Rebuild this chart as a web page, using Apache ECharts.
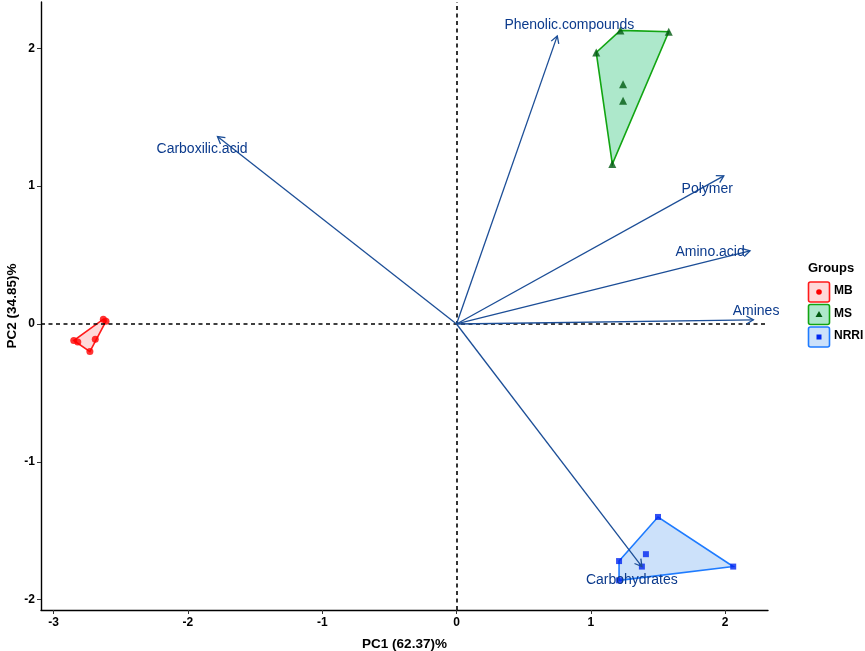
<!DOCTYPE html>
<html>
<head>
<meta charset="utf-8">
<script src="https://cdn.jsdelivr.net/npm/echarts@6/dist/echarts.min.js"></script>
<style>html,body{margin:0;padding:0;background:#fff}#c{width:865px;height:651px}</style>
</head>
<body>
<div id="c"></div>
<script>
// ---- data ----
const groupNames = ['MB', 'MS', 'NRRI'];
const mbX = [-2.85, -2.82, -2.73, -2.69, -2.63, -2.61];
const mbY = [-0.12, -0.13, -0.20, -0.11, 0.035, 0.02];
const msX = [1.04, 1.22, 1.58, 1.16, 1.24, 1.24];
const msY = [1.97, 2.13, 2.12, 1.16, 1.74, 1.62];
const nrriX = [1.21, 1.21, 1.50, 2.06, 1.41, 1.38];
const nrriY = [-1.72, -1.86, -1.40, -1.76, -1.67, -1.76];

const varNames = ['Phenolic.compounds', 'Carboxilic.acid', 'Polymer', 'Amino.acid', 'Amines', 'Carbohydrates'];
const varX = [0.75, -1.78, 1.99, 2.185, 2.21, 1.38];
const varY = [2.09, 1.36, 1.075, 0.53, 0.03, -1.76];
const varLabelX = [0.84, -1.895, 1.867, 1.888, 2.23, 1.305];
const varLabelY = [2.17, 1.27, 0.976, 0.524, 0.094, -1.855];

const xTicks = [-3, -2, -1, 0, 1, 2];
const yTicks = [-2, -1, 0, 1, 2];
const xTitle = 'PC1 (62.37)%';
const yTitle = 'PC2 (34.85)%';
const legendTitle = 'Groups';

// ---- styles ----
const FONT = '"Liberation Sans", Arial, sans-serif';
const groupStyle = {
  MB:   { stroke: '#FF1A1A', fill: 'rgba(255,120,120,0.28)', point: '#FF0000', symbol: 'circle', size: 7 },
  MS:   { stroke: '#12A512', fill: 'rgba(60,200,130,0.42)', point: '#005A10', symbol: 'triangle', size: 8 },
  NRRI: { stroke: '#1E7BFF', fill: 'rgba(110,170,240,0.35)', point: '#0026F0', symbol: 'rect', size: 6 }
};
const arrowColor = '#1C4E97';
const labelColor = '#0B3A8C';

function hull(xs, ys) {
  const pts = xs.map((x, i) => [x, ys[i]]).sort((a, b) => a[0] - b[0] || a[1] - b[1]);
  const cross = (o, a, b) => (a[0] - o[0]) * (b[1] - o[1]) - (a[1] - o[1]) * (b[0] - o[0]);
  const lower = [], upper = [];
  for (const p of pts) { while (lower.length >= 2 && cross(lower[lower.length - 2], lower[lower.length - 1], p) <= 0) lower.pop(); lower.push(p); }
  for (let i = pts.length - 1; i >= 0; i--) { const p = pts[i]; while (upper.length >= 2 && cross(upper[upper.length - 2], upper[upper.length - 1], p) <= 0) upper.pop(); upper.push(p); }
  upper.pop(); lower.pop();
  return lower.concat(upper);
}

const groups = [
  { name: 'MB', xs: mbX, ys: mbY },
  { name: 'MS', xs: msX, ys: msY },
  { name: 'NRRI', xs: nrriX, ys: nrriY }
];

const series = [];
groups.forEach(g => {
  const st = groupStyle[g.name];
  const h = hull(g.xs, g.ys);
  series.push({
    type: 'custom', name: g.name + '_hull', silent: true, z: 2,
    data: [0],
    renderItem: function (params, api) {
      const pts = h.map(p => api.coord(p));
      return { type: 'polygon', shape: { points: pts }, style: { fill: st.fill, stroke: st.stroke, lineWidth: 1.6 } };
    }
  });
  series.push({
    type: 'scatter', name: g.name, z: 3, silent: true,
    symbol: st.symbol, symbolSize: st.size,
    itemStyle: { color: st.point },
    data: g.xs.map((x, i) => [x, g.ys[i]])
  });
});

// dashed reference lines
series.push({
  type: 'line', data: [], silent: true, z: 1,
  markLine: {
    silent: true, symbol: 'none', label: { show: false }, animation: false,
    lineStyle: { color: '#000', type: [4, 3.5], width: 1.6 },
    data: [{ xAxis: 0 }, { yAxis: 0 }]
  }
});

// loading arrows
series.push({
  type: 'custom', name: 'arrows', silent: true, z: 5,
  data: varNames.map((n, i) => [varX[i], varY[i], varLabelX[i], varLabelY[i], i]),
  encode: { x: 0, y: 1 },
  renderItem: function (params, api) {
    const o = api.coord([0, 0]);
    const t = api.coord([api.value(0), api.value(1)]);
    const l = api.coord([api.value(2), api.value(3)]);
    const ang = Math.atan2(t[1] - o[1], t[0] - o[0]);
    const L = 8, A = Math.PI / 6;
    const w1 = [t[0] - L * Math.cos(ang - A), t[1] - L * Math.sin(ang - A)];
    const w2 = [t[0] - L * Math.cos(ang + A), t[1] - L * Math.sin(ang + A)];
    return {
      type: 'group',
      children: [
        { type: 'line', shape: { x1: o[0], y1: o[1], x2: t[0], y2: t[1] }, style: { stroke: arrowColor, lineWidth: 1.3 } },
        { type: 'polyline', shape: { points: [w1, t, w2] }, style: { stroke: arrowColor, lineWidth: 1.3, fill: null } },
        { type: 'text', x: l[0], y: l[1], style: { text: varNames[api.value(4)], fill: labelColor, font: '14px ' + FONT, align: 'center', verticalAlign: 'middle' } }
      ]
    };
  }
});

// legend (graphic)
const legendChildren = [
  { type: 'text', left: 808, top: 262, style: { text: legendTitle, fill: '#000', font: 'bold 13px ' + FONT } }
];
groupNames.forEach((n, i) => {
  const st = groupStyle[n];
  const y0 = 282 + i * 22.5;
  legendChildren.push({ type: 'rect', shape: { x: 808.5, y: y0, width: 21, height: 20, r: 2 }, style: { fill: st.fill, stroke: st.stroke, lineWidth: 1.6 } });
  let sym;
  if (n === 'MB') sym = { type: 'circle', shape: { cx: 819, cy: y0 + 10, r: 2.8 }, style: { fill: st.point } };
  else if (n === 'MS') sym = { type: 'polygon', shape: { points: [[819, y0 + 6.5], [815.5, y0 + 12.5], [822.5, y0 + 12.5]] }, style: { fill: st.point } };
  else sym = { type: 'rect', shape: { x: 816.5, y: y0 + 7.5, width: 5, height: 5 }, style: { fill: st.point } };
  legendChildren.push(sym);
  legendChildren.push({ type: 'text', left: 834, top: y0 + 3, style: { text: n, fill: '#000', font: 'bold 12px ' + FONT } });
});

const axisCommon = {
  type: 'value',
  splitLine: { show: false },
  axisLine: { show: true, onZero: false, lineStyle: { color: '#000', width: 1.4 } },
  axisTick: { show: true, length: 4, lineStyle: { color: '#333', width: 1 } },
  axisLabel: { color: '#000', fontFamily: FONT, fontSize: 12, fontWeight: 'bold' },
  nameTextStyle: { color: '#000', fontFamily: FONT, fontSize: 13.5, fontWeight: 'bold' },
  nameMoveOverlap: false
};

const option = {
  animation: false,
  backgroundColor: '#fff',
  grid: { left: 41, right: 97, top: 2, bottom: 41, containLabel: false, outerBoundsMode: 'none' },
  xAxis: Object.assign({}, axisCommon, {
    min: -3.094, max: 2.319,
    name: xTitle, nameLocation: 'middle', nameGap: 27,
    axisTick: Object.assign({}, axisCommon.axisTick, { customValues: xTicks }),
    axisLabel: Object.assign({}, axisCommon.axisLabel, { customValues: xTicks, margin: 7 })
  }),
  yAxis: Object.assign({}, axisCommon, {
    min: -2.075, max: 2.336,
    name: yTitle, nameLocation: 'middle', nameGap: 22,
    axisTick: Object.assign({}, axisCommon.axisTick, { customValues: yTicks }),
    axisLabel: Object.assign({}, axisCommon.axisLabel, { customValues: yTicks, margin: 6 })
  }),
  graphic: legendChildren,
  series: series
};

const chart = echarts.init(document.getElementById('c'));
chart.setOption(option);
</script>
</body>
</html>
